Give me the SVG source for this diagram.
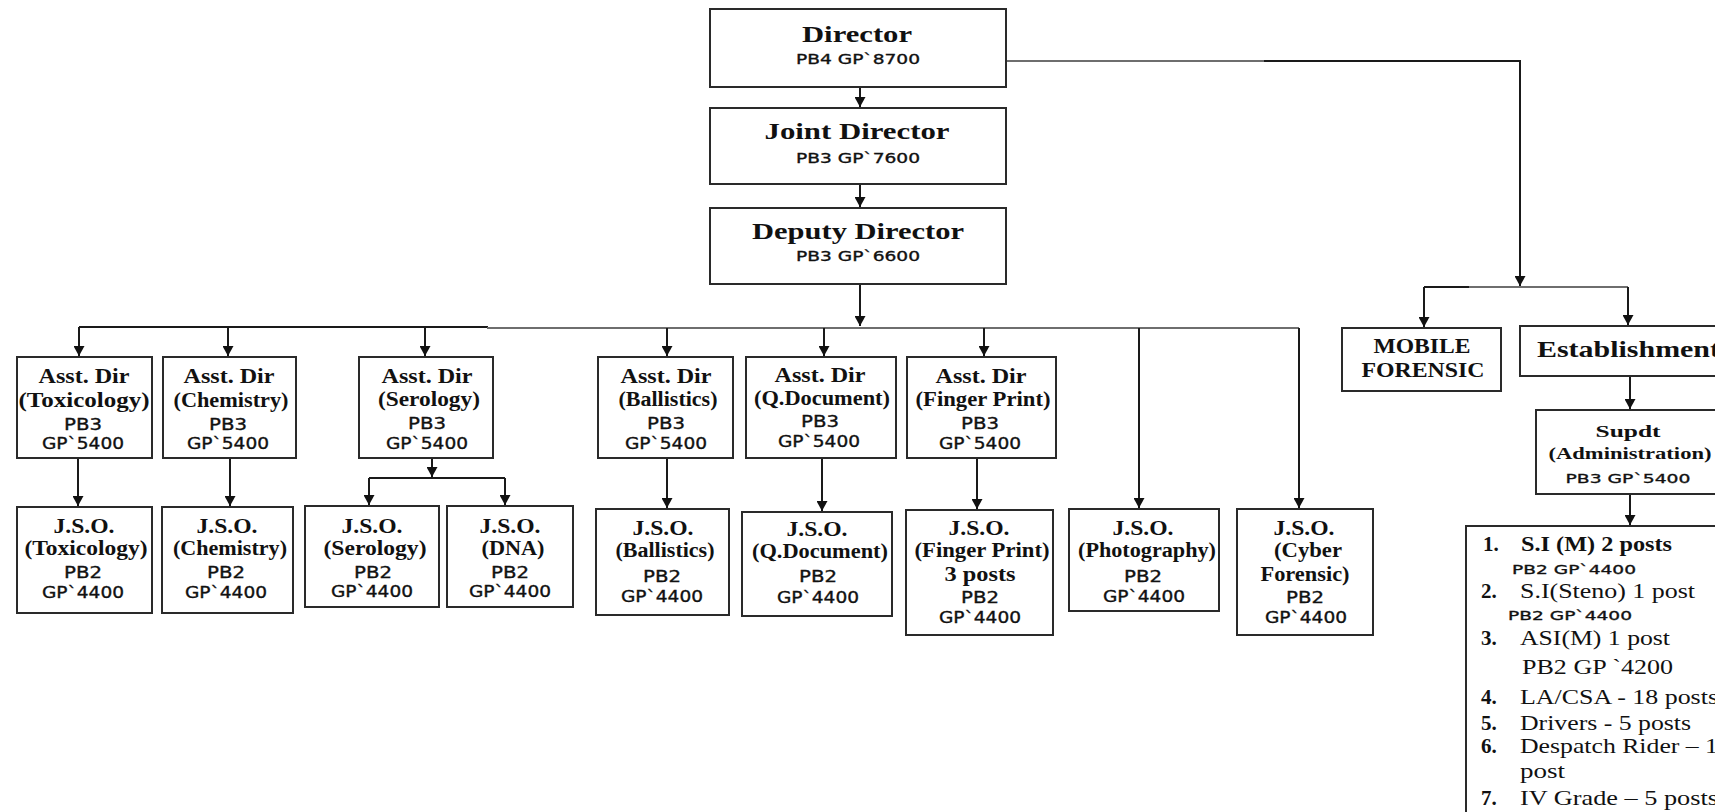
<svg xmlns="http://www.w3.org/2000/svg" width="1715" height="812" viewBox="0 0 1715 812">
  <defs>
    <marker id="arrow" markerUnits="userSpaceOnUse" markerWidth="11" markerHeight="11" refX="10" refY="5.5" orient="auto">
      <path d="M0,0 L10,5.5 L0,11 z" fill="#111"/>
    </marker>
    <style>
      .box { fill: #fff; stroke: #2a2a2a; stroke-width: 2; }
      .ln { fill: none; stroke: #1a1a1a; stroke-width: 2; }
      .lg { fill: none; stroke: #6e6e6e; stroke-width: 2; }
      .b { font-family: "Liberation Serif", "Times New Roman", serif; font-weight: bold; font-size: 20px; text-anchor: middle; fill: #111; }
      .big { font-size: 24px; }
      .s { font-family: "DejaVu Sans", Verdana, sans-serif; font-size: 16px; text-anchor: middle; fill: #111; stroke: #111; stroke-width: 0.35; }
      .sm { font-size: 14px; }
      .xs { font-size: 13px; }
      .r { font-family: "Liberation Serif", "Times New Roman", serif; font-size: 21px; fill: #111; }
      .rb { font-weight: bold; }
      .st { text-anchor: start; }
    </style>
  </defs>

  <rect width="1715" height="812" fill="#fff"/>

  <!-- connectors -->
  <g id="connectors">
    <!-- main column -->
    <path class="ln" d="M860,87 V107" marker-end="url(#arrow)"/>
    <path class="ln" d="M860,184 V207" marker-end="url(#arrow)"/>
    <path class="ln" d="M860,284 V326" marker-end="url(#arrow)"/>
    <!-- assistant director bus -->
    <path class="ln" d="M79,327 H488"/>
    <path class="lg" d="M487,328 H1299"/>
    <path class="ln" d="M79,327 V356" marker-end="url(#arrow)"/>
    <path class="ln" d="M228,327 V356" marker-end="url(#arrow)"/>
    <path class="ln" d="M425,327 V356" marker-end="url(#arrow)"/>
    <path class="ln" d="M667,328 V356" marker-end="url(#arrow)"/>
    <path class="ln" d="M824,328 V356" marker-end="url(#arrow)"/>
    <path class="ln" d="M984,328 V356" marker-end="url(#arrow)"/>
    <path class="ln" d="M1139,328 V508" marker-end="url(#arrow)"/>
    <path class="ln" d="M1299,328 V508" marker-end="url(#arrow)"/>
    <!-- assistant director to J.S.O. -->
    <path class="ln" d="M78,458 V506" marker-end="url(#arrow)"/>
    <path class="ln" d="M230,458 V506" marker-end="url(#arrow)"/>
    <path class="ln" d="M432,458 V477" marker-end="url(#arrow)"/>
    <path class="ln" d="M369,478 H505"/>
    <path class="ln" d="M369,478 V505" marker-end="url(#arrow)"/>
    <path class="ln" d="M505,478 V505" marker-end="url(#arrow)"/>
    <path class="ln" d="M667,458 V508" marker-end="url(#arrow)"/>
    <path class="ln" d="M822,458 V511" marker-end="url(#arrow)"/>
    <path class="ln" d="M977,458 V509" marker-end="url(#arrow)"/>
    <!-- director to administration branch -->
    <path class="lg" d="M1006,61 H1265"/>
    <path class="ln" d="M1264,61 H1520 V286" marker-end="url(#arrow)"/>
    <path class="ln" d="M1424,287 H1470"/>
    <path class="lg" d="M1469,287 H1628"/>
    <path class="ln" d="M1424,287 V327" marker-end="url(#arrow)"/>
    <path class="ln" d="M1628,287 V325" marker-end="url(#arrow)"/>
    <path class="ln" d="M1630,376 V409" marker-end="url(#arrow)"/>
    <path class="ln" d="M1630,494 V525" marker-end="url(#arrow)"/>
  </g>

  <!-- top management -->
  <g id="director">
    <rect class="box" x="710" y="9" width="296" height="78"/>
    <text class="b big" x="857" y="42" textLength="110" lengthAdjust="spacingAndGlyphs">Director</text>
    <text class="s sm" x="858" y="64" textLength="124" lengthAdjust="spacingAndGlyphs">PB4 GP`8700</text>
  </g>
  <g id="joint-director">
    <rect class="box" x="710" y="108" width="296" height="76"/>
    <text class="b big" x="857" y="139" textLength="185" lengthAdjust="spacingAndGlyphs">Joint Director</text>
    <text class="s sm" x="858" y="163" textLength="124" lengthAdjust="spacingAndGlyphs">PB3 GP`7600</text>
  </g>
  <g id="deputy-director">
    <rect class="box" x="710" y="208" width="296" height="76"/>
    <text class="b big" x="858" y="239" textLength="212" lengthAdjust="spacingAndGlyphs">Deputy Director</text>
    <text class="s sm" x="858" y="261" textLength="124" lengthAdjust="spacingAndGlyphs">PB3 GP`6600</text>
  </g>

  <!-- assistant directors -->
  <g id="ad-toxicology">
    <rect class="box" x="17" y="357" width="135" height="101"/>
    <text class="b" x="84" y="383" textLength="91" lengthAdjust="spacingAndGlyphs">Asst. Dir</text>
    <text class="b" x="84" y="407" textLength="131" lengthAdjust="spacingAndGlyphs">(Toxicology)</text>
    <text class="s" x="83" y="430" textLength="38" lengthAdjust="spacingAndGlyphs">PB3</text>
    <text class="s" x="83" y="449" textLength="82" lengthAdjust="spacingAndGlyphs">GP`5400</text>
  </g>
  <g id="ad-chemistry">
    <rect class="box" x="163" y="357" width="133" height="101"/>
    <text class="b" x="229" y="383" textLength="91" lengthAdjust="spacingAndGlyphs">Asst. Dir</text>
    <text class="b" x="231" y="407" textLength="115" lengthAdjust="spacingAndGlyphs">(Chemistry)</text>
    <text class="s" x="228" y="430" textLength="38" lengthAdjust="spacingAndGlyphs">PB3</text>
    <text class="s" x="228" y="449" textLength="82" lengthAdjust="spacingAndGlyphs">GP`5400</text>
  </g>
  <g id="ad-serology">
    <rect class="box" x="359" y="357" width="134" height="101"/>
    <text class="b" x="427" y="383" textLength="91" lengthAdjust="spacingAndGlyphs">Asst. Dir</text>
    <text class="b" x="429" y="406" textLength="102" lengthAdjust="spacingAndGlyphs">(Serology)</text>
    <text class="s" x="427" y="429" textLength="38" lengthAdjust="spacingAndGlyphs">PB3</text>
    <text class="s" x="427" y="449" textLength="82" lengthAdjust="spacingAndGlyphs">GP`5400</text>
  </g>
  <g id="ad-ballistics">
    <rect class="box" x="598" y="357" width="135" height="101"/>
    <text class="b" x="666" y="383" textLength="91" lengthAdjust="spacingAndGlyphs">Asst. Dir</text>
    <text class="b" x="668" y="406" textLength="99" lengthAdjust="spacingAndGlyphs">(Ballistics)</text>
    <text class="s" x="666" y="429" textLength="38" lengthAdjust="spacingAndGlyphs">PB3</text>
    <text class="s" x="666" y="449" textLength="82" lengthAdjust="spacingAndGlyphs">GP`5400</text>
  </g>
  <g id="ad-qdocument">
    <rect class="box" x="746" y="357" width="150" height="101"/>
    <text class="b" x="820" y="382" textLength="91" lengthAdjust="spacingAndGlyphs">Asst. Dir</text>
    <text class="b" x="822" y="405" textLength="136" lengthAdjust="spacingAndGlyphs">(Q.Document)</text>
    <text class="s" x="820" y="427" textLength="38" lengthAdjust="spacingAndGlyphs">PB3</text>
    <text class="s" x="819" y="447" textLength="82" lengthAdjust="spacingAndGlyphs">GP`5400</text>
  </g>
  <g id="ad-fingerprint">
    <rect class="box" x="907" y="357" width="149" height="101"/>
    <text class="b" x="981" y="383" textLength="91" lengthAdjust="spacingAndGlyphs">Asst. Dir</text>
    <text class="b" x="983" y="406" textLength="135" lengthAdjust="spacingAndGlyphs">(Finger Print)</text>
    <text class="s" x="980" y="429" textLength="38" lengthAdjust="spacingAndGlyphs">PB3</text>
    <text class="s" x="980" y="449" textLength="82" lengthAdjust="spacingAndGlyphs">GP`5400</text>
  </g>

  <!-- junior scientific officers -->
  <g id="jso-toxicology">
    <rect class="box" x="17" y="507" width="135" height="106"/>
    <text class="b" x="84" y="533" textLength="61" lengthAdjust="spacingAndGlyphs">J.S.O.</text>
    <text class="b" x="86" y="555" textLength="123" lengthAdjust="spacingAndGlyphs">(Toxicology)</text>
    <text class="s" x="83" y="578" textLength="38" lengthAdjust="spacingAndGlyphs">PB2</text>
    <text class="s" x="83" y="598" textLength="82" lengthAdjust="spacingAndGlyphs">GP`4400</text>
  </g>
  <g id="jso-chemistry">
    <rect class="box" x="162" y="507" width="131" height="106"/>
    <text class="b" x="227" y="533" textLength="61" lengthAdjust="spacingAndGlyphs">J.S.O.</text>
    <text class="b" x="230" y="555" textLength="114" lengthAdjust="spacingAndGlyphs">(Chemistry)</text>
    <text class="s" x="226" y="578" textLength="38" lengthAdjust="spacingAndGlyphs">PB2</text>
    <text class="s" x="226" y="598" textLength="82" lengthAdjust="spacingAndGlyphs">GP`4400</text>
  </g>
  <g id="jso-serology">
    <rect class="box" x="305" y="506" width="134" height="101"/>
    <text class="b" x="372" y="533" textLength="61" lengthAdjust="spacingAndGlyphs">J.S.O.</text>
    <text class="b" x="375" y="555" textLength="103" lengthAdjust="spacingAndGlyphs">(Serology)</text>
    <text class="s" x="373" y="578" textLength="38" lengthAdjust="spacingAndGlyphs">PB2</text>
    <text class="s" x="372" y="597" textLength="82" lengthAdjust="spacingAndGlyphs">GP`4400</text>
  </g>
  <g id="jso-dna">
    <rect class="box" x="447" y="506" width="126" height="101"/>
    <text class="b" x="510" y="533" textLength="61" lengthAdjust="spacingAndGlyphs">J.S.O.</text>
    <text class="b" x="513" y="555" textLength="63" lengthAdjust="spacingAndGlyphs">(DNA)</text>
    <text class="s" x="510" y="578" textLength="38" lengthAdjust="spacingAndGlyphs">PB2</text>
    <text class="s" x="510" y="597" textLength="82" lengthAdjust="spacingAndGlyphs">GP`4400</text>
  </g>
  <g id="jso-ballistics">
    <rect class="box" x="596" y="509" width="133" height="106"/>
    <text class="b" x="663" y="535" textLength="61" lengthAdjust="spacingAndGlyphs">J.S.O.</text>
    <text class="b" x="665" y="557" textLength="99" lengthAdjust="spacingAndGlyphs">(Ballistics)</text>
    <text class="s" x="662" y="582" textLength="38" lengthAdjust="spacingAndGlyphs">PB2</text>
    <text class="s" x="662" y="602" textLength="82" lengthAdjust="spacingAndGlyphs">GP`4400</text>
  </g>
  <g id="jso-qdocument">
    <rect class="box" x="742" y="512" width="150" height="104"/>
    <text class="b" x="817" y="536" textLength="61" lengthAdjust="spacingAndGlyphs">J.S.O.</text>
    <text class="b" x="820" y="558" textLength="136" lengthAdjust="spacingAndGlyphs">(Q.Document)</text>
    <text class="s" x="818" y="582" textLength="38" lengthAdjust="spacingAndGlyphs">PB2</text>
    <text class="s" x="818" y="603" textLength="82" lengthAdjust="spacingAndGlyphs">GP`4400</text>
  </g>
  <g id="jso-fingerprint">
    <rect class="box" x="906" y="510" width="147" height="125"/>
    <text class="b" x="979" y="535" textLength="61" lengthAdjust="spacingAndGlyphs">J.S.O.</text>
    <text class="b" x="982" y="557" textLength="135" lengthAdjust="spacingAndGlyphs">(Finger Print)</text>
    <text class="b" x="980" y="581" textLength="71" lengthAdjust="spacingAndGlyphs">3 posts</text>
    <text class="s" x="980" y="603" textLength="38" lengthAdjust="spacingAndGlyphs">PB2</text>
    <text class="s" x="980" y="623" textLength="82" lengthAdjust="spacingAndGlyphs">GP`4400</text>
  </g>
  <g id="jso-photography">
    <rect class="box" x="1069" y="509" width="150" height="102"/>
    <text class="b" x="1143" y="535" textLength="61" lengthAdjust="spacingAndGlyphs">J.S.O.</text>
    <text class="b" x="1147" y="557" textLength="138" lengthAdjust="spacingAndGlyphs">(Photography)</text>
    <text class="s" x="1143" y="582" textLength="38" lengthAdjust="spacingAndGlyphs">PB2</text>
    <text class="s" x="1144" y="602" textLength="82" lengthAdjust="spacingAndGlyphs">GP`4400</text>
  </g>
  <g id="jso-cyber">
    <rect class="box" x="1237" y="509" width="136" height="126"/>
    <text class="b" x="1304" y="535" textLength="61" lengthAdjust="spacingAndGlyphs">J.S.O.</text>
    <text class="b" x="1308" y="557" textLength="68" lengthAdjust="spacingAndGlyphs">(Cyber</text>
    <text class="b" x="1305" y="581" textLength="89" lengthAdjust="spacingAndGlyphs">Forensic)</text>
    <text class="s" x="1305" y="603" textLength="38" lengthAdjust="spacingAndGlyphs">PB2</text>
    <text class="s" x="1306" y="623" textLength="82" lengthAdjust="spacingAndGlyphs">GP`4400</text>
  </g>

  <!-- administration branch -->
  <g id="mobile-forensic">
    <rect class="box" x="1342" y="328" width="159" height="63"/>
    <text class="b" x="1422" y="353" textLength="97" lengthAdjust="spacingAndGlyphs">MOBILE</text>
    <text class="b" x="1423" y="377" textLength="123" lengthAdjust="spacingAndGlyphs">FORENSIC</text>
  </g>
  <g id="establishment">
    <rect class="box" x="1520" y="326" width="240" height="50"/>
    <text class="b big st" x="1537" y="357" textLength="183" lengthAdjust="spacingAndGlyphs">Establishment</text>
  </g>
  <g id="supdt">
    <rect class="box" x="1536" y="410" width="200" height="84"/>
    <text class="b" x="1628" y="437" style="font-size:17px" textLength="65" lengthAdjust="spacingAndGlyphs">Supdt</text>
    <text class="b" x="1630" y="459" style="font-size:17px" textLength="163" lengthAdjust="spacingAndGlyphs">(Administration)</text>
    <text class="s xs" x="1628" y="483" textLength="125" lengthAdjust="spacingAndGlyphs">PB3 GP`5400</text>
  </g>
  <g id="staff-list">
    <rect class="box" x="1466" y="526" width="300" height="320"/>
    <text class="r rb" x="1483" y="551">1.</text>
    <text class="r rb" x="1521" y="551" textLength="151" lengthAdjust="spacingAndGlyphs">S.I (M) 2 posts</text>
    <text class="s xs st" x="1512" y="574" textLength="124" lengthAdjust="spacingAndGlyphs">PB2 GP`4400</text>
    <text class="r rb" x="1481" y="598">2.</text>
    <text class="r" x="1520" y="598" textLength="175" lengthAdjust="spacingAndGlyphs">S.I(Steno) 1 post</text>
    <text class="s xs st" x="1508" y="620" textLength="124" lengthAdjust="spacingAndGlyphs">PB2 GP`4400</text>
    <text class="r rb" x="1481" y="645">3.</text>
    <text class="r" x="1520" y="645" textLength="150" lengthAdjust="spacingAndGlyphs">ASI(M) 1 post</text>
    <text class="r" x="1522" y="674" style="font-size:22px" textLength="151" lengthAdjust="spacingAndGlyphs">PB2 GP `4200</text>
    <text class="r rb" x="1481" y="704">4.</text>
    <text class="r" x="1520" y="704" textLength="198" lengthAdjust="spacingAndGlyphs">LA/CSA - 18 posts</text>
    <text class="r rb" x="1481" y="730">5.</text>
    <text class="r" x="1520" y="730" textLength="171" lengthAdjust="spacingAndGlyphs">Drivers - 5 posts</text>
    <text class="r rb" x="1481" y="753">6.</text>
    <text class="r" x="1520" y="753" textLength="198" lengthAdjust="spacingAndGlyphs">Despatch Rider – 1</text>
    <text class="r" x="1520" y="778" textLength="45" lengthAdjust="spacingAndGlyphs">post</text>
    <text class="r rb" x="1481" y="805">7.</text>
    <text class="r" x="1520" y="805" textLength="198" lengthAdjust="spacingAndGlyphs">IV Grade – 5 posts</text>
  </g>
</svg>
